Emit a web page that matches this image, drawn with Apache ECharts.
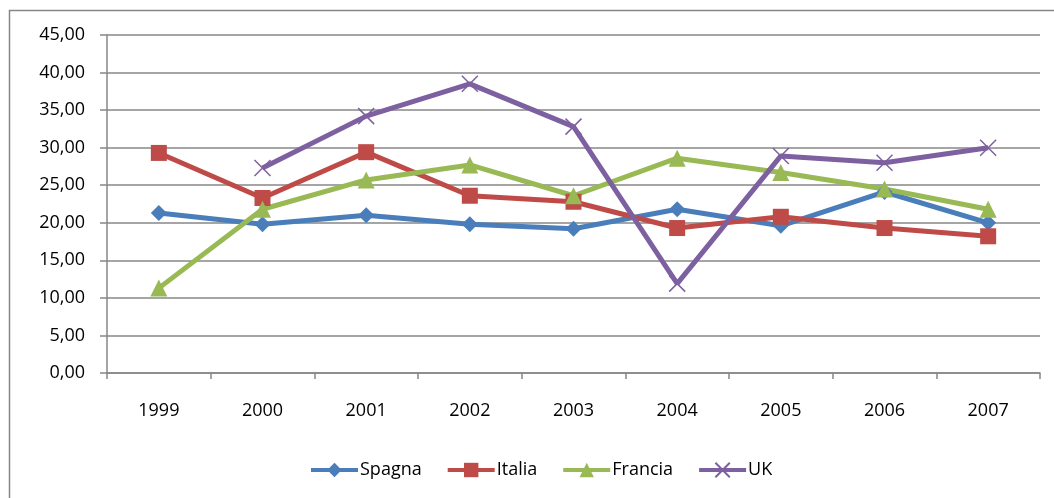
<!DOCTYPE html>
<html>
<head>
<meta charset="utf-8">
<script src="https://cdn.jsdelivr.net/npm/echarts@6/dist/echarts.min.js"></script>
<style>
  html, body { margin: 0; padding: 0; background: #fff; }
  #chart { width: 1054px; height: 498px; }
</style>
</head>
<body>
<div id="chart"></div>
<script>
// anni e valori (%)
const years = ["1999", "2000", "2001", "2002", "2003", "2004", "2005", "2006", "2007"]
const spagna = [21.3, 19.8, 21.0, 19.8, 19.2, 21.8, 19.6, 24.1, 20.0]
const italia = [29.3, 23.3, 29.4, 23.6, 22.8, 19.3, 20.8, 19.3, 18.2]
const francia = [11.3, 21.8, 25.7, 27.7, 23.6, 28.6, 26.7, 24.5, 21.8]
const uk = [null, 27.3, 34.2, 38.5, 32.8, 11.9, 28.9, 28.0, 30.0]
const yTicks = { min: 0, max: 45, interval: 5 }

const font = "Open Sans"
const gray = "#878787"

const makeSeries = (name, data, color, symbol, size, extra) => ({
  name: name,
  type: "line",
  data: data,
  connectNulls: false,
  symbol: symbol,
  symbolSize: size,
  lineStyle: { color: color, width: 5 },
  itemStyle: Object.assign({ color: color }, extra || {}),
  z: 3
})

const option = {
  animation: false,
  textStyle: { fontFamily: font },
  graphic: [
    {
      type: "rect",
      shape: { x: 9.5, y: 10.5, width: 1100, height: 600 },
      style: { fill: "none", stroke: gray, lineWidth: 1.5 },
      silent: true
    }
  ],
  grid: { left: 107, right: 14, top: 35, bottom: 125 },
  legend: {
    left: 304,
    top: 456,
    itemWidth: 47,
    itemHeight: 18,
    itemGap: 24,
    lineStyle: { width: 4 },
    textStyle: { fontFamily: font, fontSize: 18, color: "#000", padding: [0, 0, 0, -3] },
    data: ["Spagna", "Italia", "Francia", "UK"]
  },
  xAxis: {
    type: "category",
    data: years,
    boundaryGap: true,
    axisLine: { lineStyle: { color: gray, width: 1.5 } },
    axisTick: { show: true, length: 6, lineStyle: { color: gray, width: 1.5 } },
    axisLabel: { margin: 29, fontFamily: font, fontSize: 18, color: "#000" }
  },
  yAxis: {
    type: "value",
    min: yTicks.min,
    max: yTicks.max,
    interval: yTicks.interval,
    axisLine: { show: true, lineStyle: { color: gray, width: 1.5 } },
    axisTick: { show: true, length: 7, lineStyle: { color: gray, width: 1.5 } },
    splitLine: { show: true, lineStyle: { color: gray, width: 1.5 } },
    axisLabel: {
      margin: 22,
      fontFamily: font,
      fontSize: 18,
      color: "#000",
      formatter: v => v.toFixed(2).replace(".", ",")
    }
  },
  series: [
    makeSeries("Spagna", spagna, "#4A7EBB", "diamond", 16),
    makeSeries("Italia", italia, "#BE4B48", "rect", 16),
    makeSeries("Francia", francia, "#98B954", "triangle", 17),
    makeSeries("UK", uk, "#7D60A0", "path://M0,0L10,10M10,0L0,10", 16, {
      color: "rgba(0,0,0,0)",
      borderColor: "#7D60A0",
      borderWidth: 1.5
    })
  ]
}

const chart = echarts.init(document.getElementById("chart"))
chart.setOption(option)
</script>
</body>
</html>
